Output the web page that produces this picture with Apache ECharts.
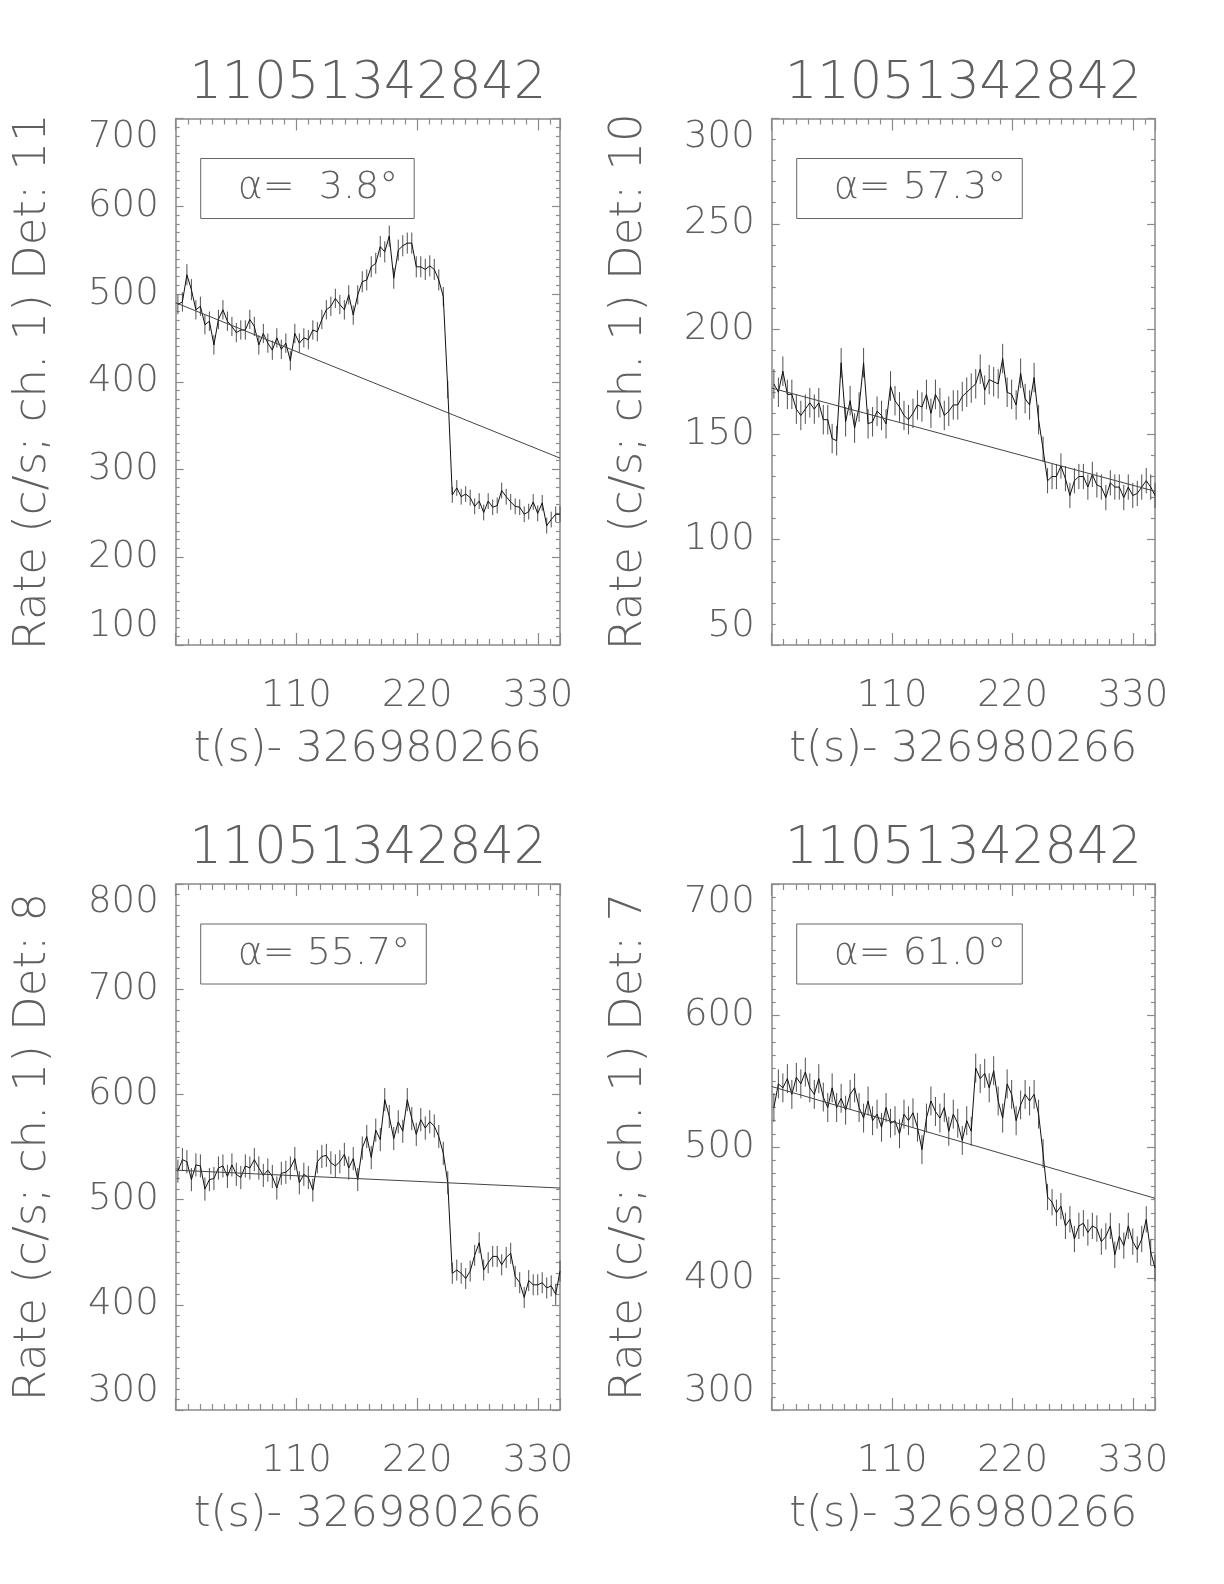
<!DOCTYPE html>
<html>
<head>
<meta charset="utf-8">
<script src="https://cdn.jsdelivr.net/npm/echarts@6/dist/echarts.min.js"></script>
<style>
html,body{margin:0;padding:0;background:#fff;}
#chart{width:1224px;height:1584px;}
</style>
</head>
<body>
<div id="chart"></div>
<script>
// ---------------- DATA ----------------
const times = [2.0,6.1,10.2,14.3,18.4,22.5,26.6,30.7,34.8,38.9,
  43.0,47.1,51.2,55.2,59.3,63.4,67.5,71.6,75.7,79.8,
  83.9,88.0,92.1,96.2,100.3,104.4,108.5,112.6,116.7,120.8,
  124.9,129.0,133.1,137.2,141.3,145.4,149.5,153.6,157.6,161.7,
  165.8,169.9,174.0,178.1,182.2,186.3,190.4,194.5,198.6,202.7,
  206.8,210.9,215.0,219.1,223.2,227.3,231.4,235.5,239.6,243.7,
  247.8,251.9,256.0,260.0,264.1,268.2,272.3,276.4,280.5,284.6,
  288.7,292.8,296.9,301.0,305.1,309.2,313.3,317.4,321.5,325.6,
  329.7,333.8,337.9,342.0,346.1,350.0];

const titles = ["11051342842","11051342842","11051342842","11051342842"];
const yNames = ["Rate (c/s; ch. 1) Det: 11","Rate (c/s; ch. 1) Det: 10","Rate (c/s; ch. 1) Det: 8","Rate (c/s; ch. 1) Det: 7"];
const xName = "t(s)- 326980266";
const alphaLabels = ["\u03b1=  3.8\u00b0","\u03b1= 57.3\u00b0","\u03b1= 55.7\u00b0","\u03b1= 61.0\u00b0"];
const xTicks = [110, 220, 330];

const tlRate = [488,491,522,505,482,486,465,469,442,471,
  482,469,463,456,459,459,471,463,442,455,
  444,436,450,437,444,424,455,444,450,448,
  459,457,471,482,486,495,488,482,499,476,
  499,514,516,531,535,554,548,566,518,550,
  555,558,558,531,531,528,532,528,516,497,
  391,271,279,269,272,268,258,264,251,264,
  257,259,276,269,263,258,257,249,252,263,
  250,262,236,243,249,249];
const tlErr = [11,11,12,12,11,11,11,11,11,11,
  11,11,11,11,11,11,11,11,11,11,
  11,11,11,11,11,11,11,11,11,11,
  11,11,11,11,11,11,11,11,11,11,
  11,12,12,12,12,12,12,12,12,12,
  12,12,12,12,12,12,12,12,12,11,
  10,9,9,9,9,9,9,9,9,9,
  9,9,9,9,9,9,9,9,9,9,
  9,9,9,9,9,9];
const tlFit = [490, 313];

const trRate = [174,170,180,169,169,162,159,162,165,162,
  165,157,157,148,147,184,156,166,153,163,
  184,155,156,161,159,155,173,166,163,159,
  157,160,164,163,169,160,169,165,159,161,
  164,164,168,170,172,174,181,171,176,175,
  174,186,170,169,164,179,167,164,177,157,
  143,128,130,130,135,129,121,128,130,130,
  125,131,126,125,120,127,125,125,120,125,
  121,122,125,128,125,121];
const trErr = [7,7,7,7,7,7,7,7,7,7,
  7,7,7,7,7,7,7,7,7,7,
  7,7,7,7,7,7,7,7,7,7,
  7,7,7,7,7,7,7,7,7,7,
  7,7,7,7,7,7,7,7,7,7,
  7,7,7,7,7,7,7,7,7,7,
  6,6,6,6,6,6,6,6,6,6,
  6,6,6,6,6,6,6,6,6,6,
  6,6,6,6,6,6];
const trFit = [172, 123];

const blRate = [527,538,536,519,533,532,510,519,520,530,
  532,522,533,524,521,532,530,538,530,523,
  528,522,511,525,526,530,539,516,524,521,
  509,536,541,542,535,532,536,543,530,539,
  519,549,560,540,566,557,595,579,558,574,
  565,595,577,562,576,568,574,570,560,544,
  516,430,433,430,425,432,447,459,433,440,
  446,446,438,445,449,427,421,407,423,419,
  419,421,416,418,410,432];
const blErr = [11,11,11,11,11,11,11,11,11,11,
  11,11,11,11,11,11,11,11,11,11,
  11,11,11,11,11,11,11,11,11,11,
  11,11,11,11,11,11,11,11,11,11,
  11,11,11,11,11,11,11,11,11,11,
  11,11,11,11,11,11,11,11,11,11,
  11,10,10,10,10,10,10,10,10,10,
  10,10,10,10,10,10,10,10,10,10,
  10,10,10,10,10,10];
const blFit = [528, 511];

const brRate = [530,548,545,552,540,553,548,557,545,540,
  552,538,530,545,530,537,528,540,545,530,
  522,535,520,525,515,530,518,520,510,525,
  520,526,515,498,522,535,527,522,530,512,
  525,518,505,520,512,560,552,556,545,558,
  535,522,548,540,520,532,540,535,540,525,
  495,462,458,450,455,440,445,430,440,442,
  435,440,438,428,432,440,418,432,425,440,
  428,422,430,445,420,408];
const brErr = [11,11,11,11,11,11,11,11,11,11,
  11,11,11,11,11,11,11,11,11,11,
  11,11,11,11,11,11,11,11,11,11,
  11,11,11,11,11,11,11,11,11,11,
  11,11,11,11,11,11,11,11,11,11,
  11,11,11,11,11,11,11,11,11,11,
  11,10,10,10,10,10,10,10,10,10,
  10,10,10,10,10,10,10,10,10,10,
  10,10,10,10,10,10];
const brFit = [546, 461];
const fitTimes = [0, 350];

const yRanges = [[100,700,100,10],[50,300,50,5],[300,800,100,10],[300,700,100,10]];
const rates = [tlRate, trRate, blRate, brRate];
const errs = [tlErr, trErr, blErr, brErr];
const fits = [tlFit, trFit, blFit, brFit];

// ---------------- LAYOUT ----------------
const panels = [
  {left:175.7, top:118.5, width:384.3, height:526.5},
  {left:771.7, top:118.5, width:383.3, height:526.5},
  {left:175.7, top:884,   width:384.3, height:526},
  {left:771.7, top:884,   width:383.3, height:526}
];
const FONT = "'DejaVu Sans', sans-serif";
const TXT = '#606060';
const AX = '#8a8a8a';

const chart = echarts.init(document.getElementById('chart'), null, {renderer:'canvas'});

const grid = [], xAxis = [], yAxis = [], series = [], graphic = [];

panels.forEach((p, k) => {
  grid.push({left:p.left, top:p.top, width:p.width, height:p.height, containLabel:false});
  const xCommon = {
    type:'value', gridIndex:k, min:0, max:350, interval:110,
    axisLine:{show:true, onZero:false, lineStyle:{color:AX, width:1.5}},
    axisTick:{show:true, inside:true, length:12, lineStyle:{color:AX, width:1.2}},
    minorTick:{show:true, splitNumber:10, length:6, lineStyle:{color:AX, width:1.2}},
    splitLine:{show:false}, minorSplitLine:{show:false}
  };
  xAxis.push(Object.assign({}, xCommon, {
    position:'bottom',
    axisLabel:{show:true, margin:33, fontFamily:FONT, fontWeight:200, fontSize:37, color:TXT,
      showMinLabel:false,
      formatter: v => (xTicks.indexOf(v) >= 0 ? String(v) : '')},
    name:xName, nameLocation:'middle', nameGap:83,
    nameTextStyle:{fontFamily:FONT, fontWeight:200, fontSize:43, color:TXT}
  }));
  xAxis.push(Object.assign({}, xCommon, {position:'top', axisLabel:{show:false}}));

  const yr = yRanges[k];
  const yCommon = {
    type:'value', gridIndex:k, min:yr[0], max:yr[1], interval:yr[2],
    axisLine:{show:true, onZero:false, lineStyle:{color:AX, width:1.5}},
    axisTick:{show:true, inside:true, length:8, lineStyle:{color:AX, width:1.2}},
    minorTick:{show:true, splitNumber:yr[3], length:4, lineStyle:{color:AX, width:1.2}},
    splitLine:{show:false}, minorSplitLine:{show:false}
  };
  yAxis.push(Object.assign({}, yCommon, {
    position:'left',
    axisLabel:{show:true, margin:17, fontFamily:FONT, fontWeight:200, fontSize:37, color:TXT,
      verticalAlignMinLabel:'bottom', verticalAlignMaxLabel:'top'},
    name:yNames[k], nameLocation:'middle', nameGap:120, nameRotate:90,
    nameTextStyle:{fontFamily:FONT, fontWeight:200, fontSize:45, color:TXT}
  }));
  yAxis.push(Object.assign({}, yCommon, {position:'right', axisLabel:{show:false}}));

  const xi = 2*k, yi = 2*k;
  const r = rates[k], e = errs[k];
  series.push({
    type:'custom', xAxisIndex:xi, yAxisIndex:yi, clip:true, silent:true,
    data: times.map((t,i) => [t, r[i]-e[i], r[i]+e[i]]),
    encode:{x:0, y:[1,2]},
    renderItem:(params, api) => {
      const x = api.value(0);
      const lo = api.coord([x, api.value(1)]);
      const hi = api.coord([x, api.value(2)]);
      return {type:'line', shape:{x1:lo[0], y1:lo[1], x2:hi[0], y2:hi[1]},
        style:{stroke:'#505050', lineWidth:1}};
    },
    animation:false
  });
  series.push({
    type:'line', xAxisIndex:xi, yAxisIndex:yi, showSymbol:false, symbol:'none',
    data: times.map((t,i) => [t, r[i]]),
    lineStyle:{color:'#111', width:1}, animation:false, silent:true
  });
  series.push({
    type:'line', xAxisIndex:xi, yAxisIndex:yi, showSymbol:false, symbol:'none',
    data: fitTimes.map((t,i) => [t, fits[k][i]]),
    lineStyle:{color:'#444', width:1}, animation:false, silent:true
  });

  // title
  graphic.push({
    type:'text', x:p.left + p.width/2, y:p.top - 34, silent:true,
    style:{text:titles[k], fill:TXT, font:"200 51px 'DejaVu Sans', sans-serif",
      textAlign:'center', textVerticalAlign:'middle'}
  });
  // legend box
  graphic.push({
    type:'text', x:p.left + 25, y:p.top + 40, silent:true,
    style:{text:alphaLabels[k], fill:TXT, font:"200 38px 'DejaVu Sans', sans-serif",
      textAlign:'left', textVerticalAlign:'top',
      borderColor:'#666', borderWidth:1, padding:[11,16,11,37], lineHeight:38}
  });
});

chart.setOption({
  backgroundColor:'#fff',
  animation:false,
  grid, xAxis, yAxis, series, graphic
});
</script>
</body>
</html>
